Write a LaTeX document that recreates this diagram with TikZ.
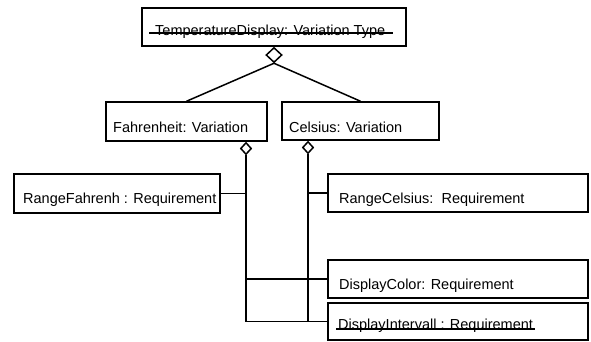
\documentclass[tikz,border=0pt]{standalone}
\usepackage{fontspec}
\setmainfont{Liberation Sans}
\usetikzlibrary{shapes.geometric}
\begin{document}
\begin{tikzpicture}[x=1pt,y=-1pt,
  box/.style={draw, line width=1.5pt, inner sep=0pt},
  txt/.style={inner sep=0pt, anchor=base west, font=\fontsize{14.5}{17}\selectfont},
  agg/.style={draw, diamond, line width=1.5pt, fill=white, inner sep=0pt},
  conn/.style={line width=1.5pt},
  strike/.style={line width=2.6pt}]
\useasboundingbox (0,0) rectangle (591,341);
% boxes
\node[box, minimum width=264pt, minimum height=38pt] (td) at (274,27) {};
\node[box, minimum width=161pt, minimum height=39pt] (fv) at (186.5,121.5) {};
\node[box, minimum width=157pt, minimum height=38pt] (cv) at (360.5,121) {};
\node[box, minimum width=206pt, minimum height=39pt] (rf) at (117,193.5) {};
\node[box, minimum width=260pt, minimum height=38pt] (rc) at (458,193) {};
\node[box, minimum width=260pt, minimum height=38pt] (dc) at (458,279) {};
\node[box, minimum width=260pt, minimum height=37pt] (di) at (458,321.5) {};
% diamonds
\node[agg, minimum width=16pt, minimum height=15pt, anchor=north] (tdd) at (td.south) {};
\node[agg, minimum width=11pt, minimum height=12pt, anchor=north] (fd) at (fv.south -| 246,0) {};
\node[agg, minimum width=11pt, minimum height=12pt, anchor=north] (cd) at (cv.south -| 308,0) {};
% connectors
\draw[conn] (tdd.south) -- (fv.north);
\draw[conn] (tdd.south) -- (cv.north);
\draw[conn] (fd.south) |- (rf.east);
\draw[conn] (fd.south) |- (dc.west);
\draw[conn] (fd.south) |- (di.west);
\draw[conn] (cd.south) |- (rc.west);
\draw[conn] (cd.south) |- (dc.west);
\draw[conn] (cd.south) |- (di.west);
% texts
\node[txt] (tdt) at (155,35) {TemperatureDisplay: Variation Type};
\node[txt] (fvt) at (113,132) {Fahrenheit: Variation};
\node[txt] (cvt) at (289,132) {Celsius: Variation};
\node[txt] (rft) at (23,203) {RangeFahrenh : Requirement};
\node[txt] (rct) at (339,203) {RangeCelsius:\ \ Requirement};
\node[txt] (dct) at (339,289) {DisplayColor: Requirement};
\node[txt] (dit) at (338,329) {DisplayIntervall : Requirement};
% strike-through lines
\coordinate (s1a) at (149,33); \coordinate (s1b) at (393,33);
\draw[strike] (s1a) -- (s1b);
\coordinate (s2a) at (336,329); \coordinate (s2b) at (535,329);
\draw[strike] (s2a) -- (s2b);
\end{tikzpicture}
\end{document}
